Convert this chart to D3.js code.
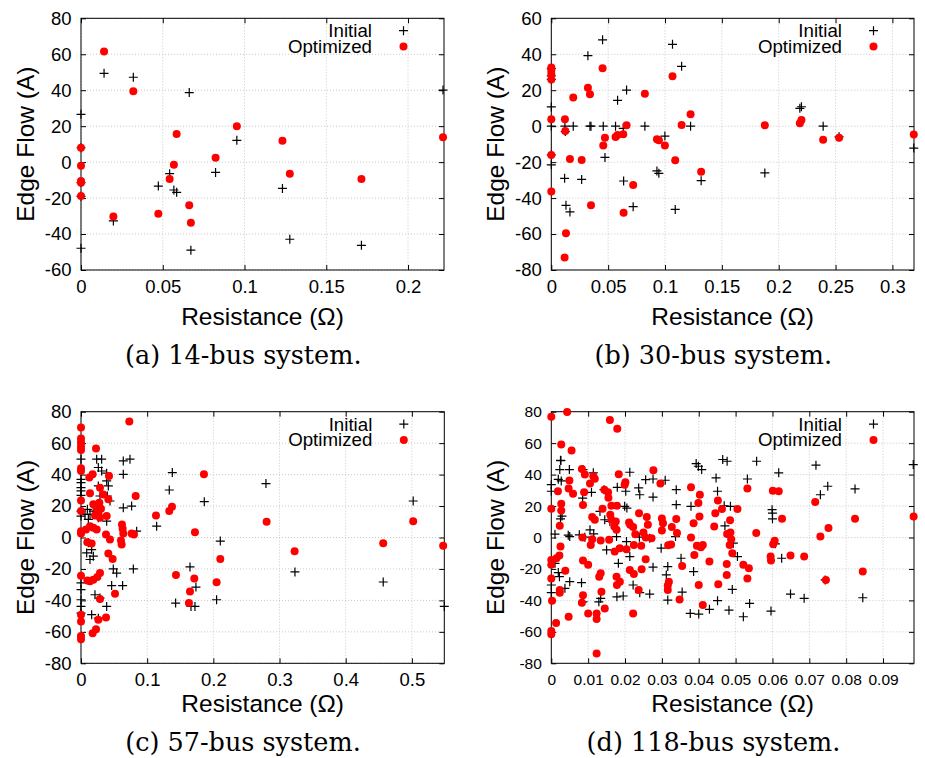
<!DOCTYPE html>
<html><head><meta charset="utf-8">
<script src="https://cdn.jsdelivr.net/npm/d3@7"></script>
<style>body{margin:0;background:#fff}</style>
</head><body>
<svg id="chart" width="925" height="758" xmlns="http://www.w3.org/2000/svg"></svg>
<script>
// ---------- DATA ----------
// (a) 14-bus: resistance shared by both series
const aR    = [0,0,0,0,0,0.0141,0.032,0.0198,0.0473,0.0542,0.0568,0.0585,0.0662,0.0672,0.0823,0.0953,0.1232,0.1277,0.1715,0.2214];
const aInit = [8,-19,26.6,-11.4,-47.9,49.4,47.2,-32.7,-13.3,-6.4,-15.5,-16.8,38.7,-49,-5.7,12.1,-14.6,-42.9,-46.3,40.1];
const aOpt  = [8,-2,-10.5,-11.5,-18.8,61.6,39.4,-30.3,-28.7,-9.4,-1.5,15.6,-24,-33.7,2.4,20,11.9,-6.4,-9.4,13.8];

// (b) 30-bus
const bR    = [0,0,0,0,0,0,0,0.0117,0.0120,0.0123,0.0129,0.0164,0.0193,0.0267,0.0322,0.034,0.0349,0.0451,0.0457,0.0472,0.0565,0.0583,0.0633,0.0636,0.0662,0.072,0.0823,0.0929,0.0946,0.0999,0.1066,0.109,0.1146,0.1225,0.1318,0.1878,0.2186,0.22,0.2391,0.2531,0.3188];
const bInit = [10.7,0,-21.5,32,28,26,-16,-29,0,-3,-44,-47.7,0,-29.6,39.2,0,0,48,0,-17.4,0,14.4,-1.2,-30.5,20.1,-44.8,0,-24.9,-26.2,-5.5,45.5,-46.3,33.3,0,-30.3,-26,9.9,10.8,0,-5.9,-12.2];
const bOpt  = [32.6,29,26,3.8,-16,-36.4,31,-73,3.8,-2.7,-59.6,-18.2,15.9,-18.8,21.4,17.7,-44,32.2,-10.7,-6.4,-6,-4.9,-4.5,-48.1,0.5,-32.7,18.1,-7.3,-7.9,-10.7,27.7,-19,0.7,6.6,-25.3,0.5,1.6,3.5,-7.6,-6.4,-4.7];

// (c) 57-bus: [resistance, flow]
const cInitial = [[0,49.8],[0,37],[0,34.9],[0,31.7],[0,29.6],[0,26.8],[0,16.8],[0,13.6],[0,-28.9],[0,-33.2],[0,-39.6],[0,-43.8],[0,-48.1],
[0.0237,49.8],[0.0312,49.8],[0.0639,48.7],[0.074,49.8],[0.0262,44.5],[0.0312,42.3],[0.0388,40.9],[0.0639,40.2],[0.0388,36],[0.0262,32.8],[0.0413,32.8],[0.0287,26.4],[0.0398,26.4],[0.0438,23.2],[0.0639,18.9],[0.0765,20],[0.0096,17.9],[0.0186,16.8],[0.006,14.7],[0.0136,14.7],[0.0111,11.5],[0.0262,12.6],[0.0388,10.4],[0.0841,4],[0.0111,-3.4],[0.0161,-7.7],[0.0186,-11.9],[0.0086,-9.8],[0.0136,-14],[0.0488,-20],[0.0539,-22.6],[0.0791,-20],[0.0211,-36.4],[0.0463,-30.6],[0.0629,-30.6],[0.0388,-43.8],[0.0161,-49.1],[0.0262,-51.3],[0.0287,-38.5],
[0.1143,7.2],[0.1334,30.2],[0.138,41.3],[0.1863,22.8],[0.2105,-2.3],[0.1647,-18.7],[0.1737,-31.5],[0.143,-41.7],[0.1662,-43.8],[0.1722,-43.8],[0.2049,-39.6],[0.2795,34.3],[0.3233,-21.9],[0.4567,-28.3],[0.502,23.2],[0.549,-43.8]];
const cOptimized = [[0,70],[0,63],[0,60.4],[0,57.9],[0,55.7],[0,44],[0,42.3],[0,23.6],[0,16.8],[0,4],[0,2.5],[0,-24.3],[0,-49.1],[0,-53.4],[0,-62.6],[0,-64.7],
[0.0227,56.6],[0.0126,38.1],[0.0176,40.2],[0.0423,39.1],[0.0136,28.1],[0.0287,31.7],[0.0337,27.4],[0.0413,24.3],[0.0186,21.1],[0.0277,22.1],[0.0237,18.3],[0.0302,18.3],[0.0211,14],[0.0287,12.6],[0.0388,13.6],[0.0262,15.3],[0.0136,7.2],[0.0186,6.2],[0.0237,5.1],[0.0076,5.1],[0.0378,1.9],[0.0438,-1.3],[0.0096,-3],[0.0161,-3.8],[0.0413,-10.2],[0.0478,-13.6],[0.0096,-27.4],[0.0186,-26.8],[0.0247,-25.1],[0.0287,-22.6],[0.0136,-27.9],[0.0287,-39.1],[0.0262,-52.3],[0.0378,-50.9],[0.0176,-60.9],[0.0227,-58.3],[0.0514,-35.7],[0.073,73.8],
[0.0619,8.3],[0.0629,5.5],[0.0639,2.6],[0.0614,-4.5],[0.0604,-1.9],[0.0765,2.6],[0.08,1.9],[0.0826,26.4],[0.1133,14],[0.1334,16.8],[0.1375,19.6],[0.1858,40.2],[0.1722,3.4],[0.1435,-23.8],[0.1712,-26],[0.1647,-34.3],[0.1631,-41.7],[0.2049,-28.5],[0.2105,-13.6],[0.2805,10],[0.3228,-8.7],[0.4567,-3.6],[0.502,10.4],[0.5473,-5.3]];

// (d) 118-bus: [resistance, flow]
const dInitial = [[0.0026,48.9],[0.0023,43.2],[0.0049,43.2],[0.0086,43.2],[0.0114,41.1],[0.0213,41.5],[0.0027,36],[0,33.6],[0,29.4],[0.0025,11.9],[0.005,0.6],[0.0109,28.7],[0.0085,25.1],[0.0143,30.4],[0.0179,31.9],[0.0202,29.4],[0.024,27.2],[0.0256,36.8],[0.0276,37.2],[0.0309,36.4],[0.0237,31.5],[0.0276,25.7],[0.0339,30.4],[0.0339,20.9],[0.0379,19.8],[0.0393,47],[0.0399,45.3],[0.0408,43.2],[0.0447,37.9],[0.0451,29.4],[0.0465,49.6],[0.0477,48.5],[0.0469,20.2],[0.0471,7.4],[0.0132,16.6],[0.0145,11.3],[0.0159,10.2],[0.0199,19.8],[0.0205,18.7],[0.0105,4.9],[0.0115,2.3],[0.0177,0.6],[0.0076,1.7],[0.0204,-2.6],[0.015,-7.9],[0.0177,-8.3],[0.0213,-12.1],[0.0182,-16.4],[0.0276,-18.9],[0.0337,0.6],[0.001,-16.4],[0.0019,-22.3],[0.0022,-24.9],[0.005,-28.1],[0.0082,-28.7],[0,-30.2],[0,-35.1],[0.0037,-32.3],[0.0086,-40.9],[0.0129,-40.9],[0.0134,-38.7],[0.0178,-37.7],[0.0195,-37.2],[0.0222,-30.2],[0.024,-35.1],[0.0267,-36],[0.0316,-39.8],[0.0312,-23.8],[0.0386,-21.7],[0.0377,-48.3],[0.04,-48.7],[0.0429,-45.7],[0.0451,-40.2],[0.0352,-13.2],[0.0298,-6.8],[0.0316,-18.5],
[0.001,2.1],[0.0091,0.2],[0.0239,0.2],[0.0267,-0.4],[0.0355,-34.7],[0.0025,49.1],[0.0019,37],[0.0029,13.6],[0.0046,1.5],
[0.0557,48.5],[0.0718,46],[0.0982,46.4],[0.0617,41.1],[0.0532,37.2],[0.075,32.6],[0.073,27.2],[0.0824,30.9],[0.0599,17.7],[0.06,15.5],[0.06,11.9],[0.0486,19.8],[0.0494,-3.6],[0.0505,-12.1],[0.0608,-4],[0.0625,-13.2],[0.0743,-27],[0.0491,-33],[0.0649,-36],[0.0686,-38.7],[0.0845,-38.3],[0.0482,-46.2],[0.0538,-41.9],[0.0521,-50.4],[0.0596,-46.8]];
const dOptimized = [[0,76.8],[0.0043,79.8],[0.0159,74.7],[0.0179,69.1],[0.0027,59.1],[0.0055,55.3],[0.0083,43.6],[0.0091,40],[0.0114,38.9],[0.0118,37.4],[0.0105,34.3],[0.0049,36.2],[0.0047,31.1],[0.0059,27.9],[0.0018,29.4],[0.0027,21.5],[0.0027,17.2],[0.0023,7.4],[0,18.3],[0.0086,20.6],[0.0089,28.7],[0.0183,40.2],[0.0201,35.1],[0.0199,33.6],[0.0277,42.8],[0.0296,34.3],[0.0144,30.4],[0.0154,28.7],[0.0139,18.3],[0.0111,13],[0.0118,11.3],[0.0155,25.3],[0.0163,20.2],[0.0178,20.2],[0.016,14.5],[0.0163,11.3],[0.0175,10.2],[0.0171,7],[0.0177,4.9],[0.0211,9.6],[0.0214,8.1],[0.0222,6.6],[0.0238,15.5],[0.0228,2.1],[0.0259,13],[0.0262,8.1],[0.025,3.2],[0.0256,0],[0.0272,-0.4],[0.03,12.1],[0.0303,9.1],[0.03,4.5],[0.0317,-4.9],[0.0325,-4.5],[0.0339,11.7],[0.0327,6.6],[0.0341,2.8],[0.0085,0],[0.0107,-4.7],[0.0111,-1.1],[0.0134,-1.9],[0.0157,-1.5],[0.0186,-6.8],[0.0172,-8.9],[0.0204,-7.4],[0.0224,-4.7],[0.0244,-5.3],[0.0256,-13.8],[0.0025,-5.7],[0.0022,-11.5],[0.0014,-13.2],[0,-14.3],[0,-17.4],[0,-26],[0.0038,-21.1],[0.0023,-33.4],[0.0023,-35.1],[0.0002,-40.2],[0.0013,-54.3],[0,-59.4],[0,-61.5],[0.0047,-50.4],[0.0083,-41.5],[0.0086,-36.8],[0.01,-48.3],[0.0123,-48.3],[0.0123,-51.9],[0.0123,-73.8],[0.0145,-45.1],[0.013,-24.9],[0.0134,-22.8],[0.0136,-34.5],[0.0177,-24.9],[0.0186,-28.1],[0.0178,-30.2],[0.0213,-20.6],[0.0224,-23.2],[0.0245,-20.2],[0.0237,-33.4],[0.0222,-48.3],[0.0319,-28.1],[0.0316,-30.6],[0.0316,-33.4],[0.0348,-39.4],[0.01,-17.4],[0.0086,-14.7],[0.0379,31.9],[0.0403,27.2],[0.0399,21.9],[0.0445,15.5],[0.0452,23.6],[0.0463,18.1],[0.0442,7],[0.0402,13.4],[0.0386,9.1],[0.0379,0],[0.0395,-5.3],[0.0406,-6.2],[0.0411,-4.7],[0.0388,-11.1],[0.0355,-18.1],[0.04,-30.2],[0.0411,-43],[0.0429,-15.3],[0.0453,-29.8],
[0.0505,18.1],[0.0485,10.9],[0.0477,2.3],[0.0486,3.2],[0.0488,-1.1],[0.0484,-4.7],[0.0491,-10],[0.0476,-16.8],[0.0476,-23.8],[0.0532,31.1],[0.0601,29.8],[0.0617,29.4],[0.0626,11.9],[0.0556,2.8],[0.0606,-2.1],[0.0602,-4.3],[0.0595,-12.1],[0.0596,-14.7],[0.0649,-11.5],[0.0686,-12.1],[0.0521,-17.4],[0.0536,-19.6],[0.0532,-26],[0.0716,22.6],[0.073,0.6],[0.0752,6],[0.0745,-27],[0.0824,11.9],[0.0845,-21.7],[0.0983,13.4]];

const captions = ["(a) 14-bus system.", "(b) 30-bus system.", "(c) 57-bus system.", "(d) 118-bus system."];
const xLabel = "Resistance (\u03A9)";
const yLabel = "Edge Flow (A)";
const legendLabels = ["Initial", "Optimized"];

// ---------- LAYOUT ----------
const zip = (r, v) => r.map((d, i) => [d, v[i]]);
const panels = [
  {init: zip(aR, aInit), opt: zip(aR, aOpt), l:81, r:444, t:18.3, b:270, yMin:-60, yMax:80, xMax:0.222, xStep:0.05, tickFs:18.5, xLabY:316.7, capX:243.3, capY:355},
  {init: zip(bR, bInit), opt: zip(bR, bOpt), l:551.3, r:914, t:18.3, b:270, yMin:-80, yMax:60, xMax:0.319, xStep:0.05, tickFs:18.5, xLabY:316.7, capX:713.3, capY:355},
  {init: cInitial, opt: cOptimized, l:81, r:444.3, t:411.7, b:663.3, yMin:-80, yMax:80, xMax:0.549, xStep:0.1, tickFs:18.5, xLabY:703.3, capX:243, capY:741.7},
  {init: dInitial, opt: dOptimized, l:551.3, r:914, t:411.7, b:663.3, yMin:-80, yMax:80, xMax:0.0984, xStep:0.01, tickFs:15.5, xLabY:703.3, capX:713.5, capY:741.7}
];

const svg = d3.select("#chart");
const SANS = "'Liberation Sans', Arial, Helvetica, sans-serif";
const SERIF = "'DejaVu Serif', serif";
const fmt = v => String(+(+v).toFixed(4));
const plusPath = "M-4.5,0H4.5M0,-4.5V4.5";
const DOT_R = 4;

panels.forEach((p, i) => {
  const g = svg.append("g");
  const x = d3.scaleLinear().domain([0, p.xMax]).range([p.l, p.r]);
  const y = d3.scaleLinear().domain([p.yMin, p.yMax]).range([p.b, p.t]);
  const nx = Math.floor(p.xMax / p.xStep + 1e-6);
  const xt = d3.range(0, nx + 1).map(k => +(k * p.xStep).toFixed(4));
  const yt = d3.range(p.yMin, p.yMax + 1e-6, 20);

  // grid
  g.append("g").selectAll("line").data(xt).join("line")
    .attr("x1", d => x(d)).attr("x2", d => x(d)).attr("y1", p.t).attr("y2", p.b)
    .attr("stroke", "#c8c8c8").attr("stroke-width", 1).attr("stroke-dasharray", "1,2");
  g.append("g").selectAll("line").data(yt).join("line")
    .attr("y1", d => y(d)).attr("y2", d => y(d)).attr("x1", p.l).attr("x2", p.r)
    .attr("stroke", "#c8c8c8").attr("stroke-width", 1).attr("stroke-dasharray", "1,2");

  const style = sel => {
    sel.select(".domain").remove();
    sel.selectAll(".tick line").attr("stroke", "#000");
    sel.selectAll("text").attr("font-family", SANS).attr("font-size", p.tickFs).attr("fill", "#000");
  };
  g.append("g").attr("transform", `translate(0,${p.b})`)
    .call(d3.axisBottom(x).tickValues(xt).tickFormat(fmt).tickSize(-5).tickPadding(p.tickFs < 17 ? 11 : 10)).call(style);
  g.append("g").attr("transform", `translate(0,${p.t})`)
    .call(d3.axisTop(x).tickValues(xt).tickFormat("").tickSize(-5)).call(style);
  g.append("g").attr("transform", `translate(${p.l},0)`)
    .call(d3.axisLeft(y).tickValues(yt).tickFormat(fmt).tickSize(-5).tickPadding(9.5)).call(style);
  g.append("g").attr("transform", `translate(${p.r},0)`)
    .call(d3.axisRight(y).tickValues(yt).tickFormat("").tickSize(-5)).call(style);

  // border
  g.append("rect").attr("x", p.l).attr("y", p.t).attr("width", p.r - p.l).attr("height", p.b - p.t)
    .attr("fill", "none").attr("stroke", "#000").attr("stroke-width", 1);

  // points
  g.append("g").selectAll("path").data(p.init).join("path")
    .attr("d", plusPath).attr("transform", d => `translate(${x(d[0])},${y(d[1])})`)
    .attr("stroke", "#000").attr("stroke-width", 1.2).attr("fill", "none");
  g.append("g").selectAll("circle").data(p.opt).join("circle")
    .attr("cx", d => x(d[0])).attr("cy", d => y(d[1])).attr("r", DOT_R).attr("fill", "#f00");

  // legend
  const lg = g.append("g");
  [0, 1].forEach(k => {
    const ly = p.t + (k === 0 ? 12.4 : 28.2);
    lg.append("text").attr("x", p.r - 72).attr("y", ly).attr("text-anchor", "end")
      .attr("dominant-baseline", "central").attr("font-family", SANS).attr("font-size", 18.7)
      .text(legendLabels[k]);
    if (k === 0) lg.append("path").attr("d", plusPath).attr("transform", `translate(${p.r - 40.5},${ly})`)
      .attr("stroke", "#000").attr("stroke-width", 1.2);
    else lg.append("circle").attr("cx", p.r - 40.5).attr("cy", ly).attr("r", DOT_R).attr("fill", "#f00");
  });

  // axis labels
  g.append("text").attr("x", (p.l + p.r) / 2).attr("y", p.xLabY).attr("text-anchor", "middle")
    .attr("dominant-baseline", "central").attr("font-family", SANS).attr("font-size", 24.5).text(xLabel);
  g.append("text").attr("transform", `translate(${p.l - 56},${(p.t + p.b) / 2}) rotate(-90)`)
    .attr("text-anchor", "middle").attr("dominant-baseline", "central")
    .attr("font-family", SANS).attr("font-size", 24.5).text(yLabel);

  // caption
  g.append("text").attr("x", p.capX).attr("y", p.capY).attr("text-anchor", "middle")
    .attr("dominant-baseline", "central").attr("font-family", SERIF).attr("font-size", 25.5)
    .text(captions[i]);
});
</script>
</body></html>
